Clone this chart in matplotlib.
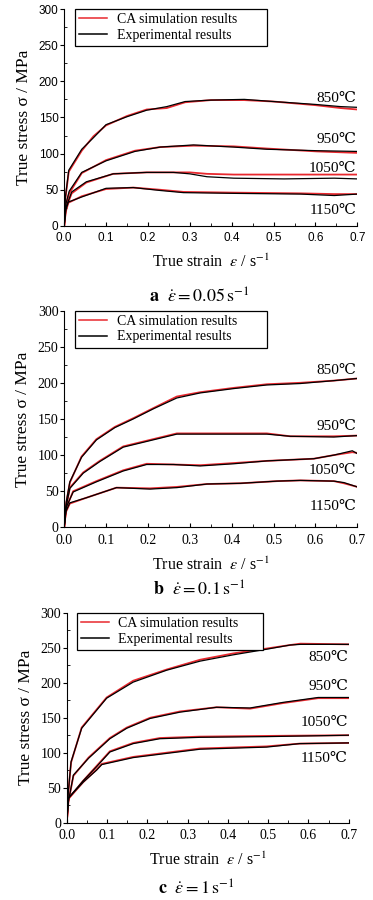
import numpy as np
import matplotlib
matplotlib.use('Agg')
import matplotlib.pyplot as plt
from matplotlib.ticker import MultipleLocator, FormatStrFormatter

plt.rcParams['font.family'] = ['Liberation Serif', 'DejaVu Serif', 'DejaVu Sans']
plt.rcParams['mathtext.fontset'] = 'stix'

temps = ['850', '950', '1050', '1150']

# panel a, strain rate 0.05 s-1
a_x = {
    '850': [0, 0.003, 0.011, 0.042, 0.07, 0.10, 0.15, 0.197, 0.245, 0.289, 0.35, 0.43, 0.50, 0.60, 0.66, 0.70],
    '950': [0, 0.004, 0.012, 0.042, 0.10, 0.169, 0.229, 0.309, 0.405, 0.484, 0.604, 0.70],
    '1050': [0, 0.004, 0.018, 0.053, 0.117, 0.197, 0.261, 0.30, 0.341, 0.405, 0.525, 0.645, 0.70],
    '1150': [0, 0.004, 0.01, 0.042, 0.10, 0.165, 0.229, 0.285, 0.405, 0.565, 0.645, 0.70],
}
a_exp = {
    '850': [0, 40, 77, 106, 122, 140, 151, 160, 165, 172, 174, 175, 172, 168, 165, 164],
    '950': [0, 30, 48, 74, 90, 103, 109, 112, 109, 106, 104, 103],
    '1050': [0, 25, 47, 61, 72, 74, 74, 72, 68, 66, 65, 66, 65],
    '1150': [0, 22, 33, 40, 52, 53, 49, 46, 45, 44, 42, 44],
}
a_sim = {
    '850': [0, 38, 75, 104, 124, 139, 152, 161, 163, 171, 174, 174, 172, 167, 163, 161],
    '950': [0, 28, 45, 73, 91, 104, 109, 111, 110, 107, 103, 101],
    '1050': [0, 24, 45, 60, 72, 74, 74, 74, 72, 71, 71, 71, 71],
    '1150': [0, 20, 32, 41, 51, 53, 50, 47, 46, 45, 44, 44],
}
a_lab_y = [176, 119, 80, 21]

# panel b, strain rate 0.1 s-1
b_x = {
    '850': [0, 0.005, 0.0136, 0.0415, 0.077, 0.121, 0.165, 0.213, 0.269, 0.325, 0.405, 0.484, 0.564, 0.644, 0.70],
    '950': [0, 0.005, 0.0136, 0.0455, 0.085, 0.141, 0.205, 0.269, 0.325, 0.484, 0.54, 0.644, 0.70],
    '1050': [0, 0.005, 0.0215, 0.077, 0.141, 0.197, 0.261, 0.325, 0.405, 0.484, 0.596, 0.644, 0.688, 0.70],
    '1150': [0, 0.004, 0.0136, 0.053, 0.125, 0.205, 0.269, 0.341, 0.421, 0.508, 0.564, 0.644, 0.668, 0.70],
}
b_exp = {
    '850': [0, 35, 63, 97, 121, 138, 150, 164, 179, 186, 192, 197, 199, 203, 206],
    '950': [0, 30, 54, 75, 91, 111, 120, 129, 129, 129, 126, 125, 127],
    '1050': [0, 28, 49, 63, 78, 87, 87, 85, 88, 92, 95, 100, 106, 102],
    '1150': [0, 22, 34, 41, 55, 53, 55, 60, 61, 64, 65, 64, 62, 56],
}
b_sim = {
    '850': [0, 34, 62, 98, 122, 139, 151, 165, 181, 187, 193, 198, 200, 203, 206],
    '950': [0, 29, 55, 76, 92, 112, 121, 130, 130, 130, 126, 126, 127],
    '1050': [0, 27, 50, 64, 79, 88, 87, 86, 89, 92, 95, 100, 104, 103],
    '1150': [0, 21, 33, 41, 55, 54, 56, 60, 61, 64, 65, 64, 61, 56],
}
b_lab_y = [217, 140, 79, 29]

# panel c, strain rate 1 s-1
c_x = {
    '850': [0, 0.004, 0.0107, 0.037, 0.099, 0.165, 0.248, 0.331, 0.413, 0.496, 0.554, 0.58, 0.70],
    '950': [0, 0.004, 0.0165, 0.054, 0.107, 0.149, 0.207, 0.281, 0.372, 0.455, 0.537, 0.624, 0.70],
    '1050': [0, 0.004, 0.041, 0.074, 0.107, 0.165, 0.231, 0.331, 0.496, 0.70],
    '1150': [0, 0.004, 0.041, 0.074, 0.087, 0.165, 0.248, 0.331, 0.496, 0.578, 0.70],
}
c_exp = {
    '850': [0, 45, 87, 135, 178, 201, 218, 231, 240, 248, 254, 255, 255],
    '950': [0, 30, 68, 92, 120, 135, 149, 158, 165, 164, 172, 179, 179],
    '1050': [0, 35, 60, 80, 101, 113, 120, 122, 123, 125],
    '1150': [0, 35, 58, 75, 83, 93, 99, 105, 108, 113, 114],
}
c_sim = {
    '850': [0, 44, 86, 136, 179, 203, 219, 233, 242, 249, 254, 256, 255],
    '950': [0, 29, 67, 93, 121, 136, 150, 159, 165, 163, 171, 178, 178],
    '1050': [0, 34, 60, 81, 102, 114, 121, 123, 124, 125],
    '1150': [0, 34, 58, 76, 84, 94, 100, 106, 109, 113, 114],
}
c_lab_y = [236, 195, 143, 91]

panels = [
    ('a', '0.05', a_x, a_exp, a_sim, a_lab_y, [0.172, 0.749, 0.786, 0.241], 'sans', -0.33, (0.037, 0.655)),
    ('b', '0.1', b_x, b_exp, b_sim, b_lab_y, [0.172, 0.414, 0.786, 0.241], 'serif', -0.29, (0.037, 0.655)),
    ('c', '1', c_x, c_exp, c_sim, c_lab_y, [0.179, 0.086, 0.756, 0.233], 'serif', -0.32, (0.035, 0.66)),
]

fig = plt.figure(figsize=(3.73, 9), dpi=100)

for letter, rate, xs, exp, sim, lab_y, pos, tickfont, cap_y, legbox in panels:
    ax = fig.add_axes(pos)
    for t in temps:
        ax.plot(xs[t], sim[t], color='#e8282e', lw=1.3, zorder=2)
        ax.plot(xs[t], exp[t], color='black', lw=0.9, zorder=3)
    ax.plot([], [], color='#e8282e', lw=1.1, label='CA simulation results')
    ax.plot([], [], color='black', lw=1.1, label='Experimental results')

    ax.set_xlim(0, 0.7)
    ax.set_ylim(0, 300)
    ax.xaxis.set_major_locator(MultipleLocator(0.1))
    ax.xaxis.set_minor_locator(MultipleLocator(0.05))
    ax.yaxis.set_major_locator(MultipleLocator(50))
    ax.yaxis.set_minor_locator(MultipleLocator(25))
    ax.xaxis.set_major_formatter(FormatStrFormatter('%.1f'))
    ax.spines['top'].set_visible(False)
    ax.spines['right'].set_visible(False)
    ax.tick_params(axis='x', which='major', direction='in', length=3, pad=4.5)
    ax.tick_params(axis='x', which='minor', direction='in', length=2)
    ax.tick_params(axis='y', which='major', direction='out', length=3, pad=1)
    ax.tick_params(axis='y', which='minor', direction='in', length=2)
    for lab in ax.get_xticklabels() + ax.get_yticklabels():
        if tickfont == 'sans':
            lab.set_family(['Liberation Sans', 'DejaVu Sans'])
            lab.set_fontsize(8.5)
        else:
            lab.set_fontsize(10)

    for t, yy in zip(temps, lab_y):
        ax.text(0.698, yy, t + '\u2103', ha='right', va='center', fontsize=11)

    ax.set_ylabel('True stress \u03c3 / MPa', fontsize=12.5, labelpad=5)
    ax.set_xlabel(r'True strain  $\varepsilon$ / s$^{-1}$', fontsize=11.5, labelpad=7)
    ax.text(0.46, cap_y, r'$\mathbf{%s}$  $\dot{\varepsilon} = %s\,\mathrm{s}^{-1}$' % (letter, rate),
            transform=ax.transAxes, ha='center', va='center', fontsize=13)

    leg = ax.legend(loc='upper left', bbox_to_anchor=(legbox[0], 0, legbox[1], 1.0),
                    mode='expand', borderaxespad=0,
                    fontsize=10, handlelength=2.0, handletextpad=0.7, fancybox=False,
                    framealpha=1, edgecolor='black', borderpad=0.3, labelspacing=0.2)
    leg.get_frame().set_linewidth(0.9)

fig.savefig('out.png', dpi=100)
